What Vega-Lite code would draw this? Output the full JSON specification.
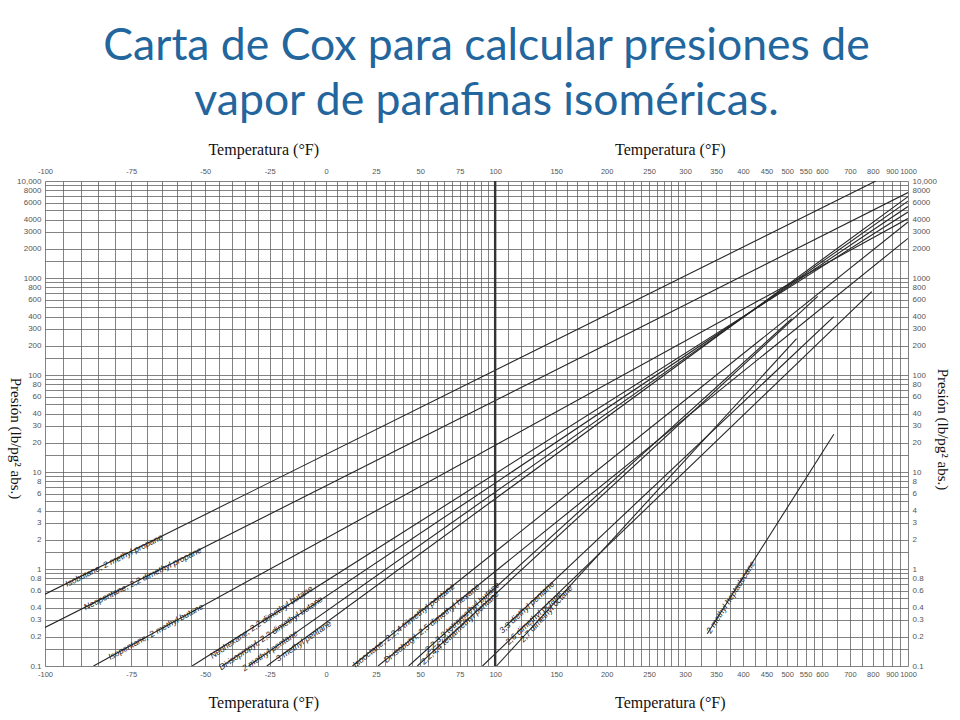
{
  "$schema": "https://vega.github.io/schema/vega-lite/v6.json",
  "width": 863,
  "height": 485,
  "autosize": {"type": "none"},
  "padding": {"left": 45, "top": 181, "right": 52, "bottom": 54},
  "background": "white",
  "title": {
    "text": ["Carta de Cox para calcular presiones de", "vapor de parafinas isoméricas."],
    "font": "Lato",
    "fontSize": 44.5,
    "fontWeight": "normal",
    "color": "#22669d",
    "anchor": "middle",
    "lineHeight": 55,
    "offset": 17,
    "dx": 10
  },
  "config": {
    "view": {"stroke": null},
    "axis": {
      "labelFont": "Liberation Sans",
      "labelFontSize": 8,
      "labelColor": "#555555",
      "domain": false,
      "ticks": false,
      "labelOverlap": false,
      "labelBound": false,
      "labelFlush": false,
      "gridColor": "#5a5a5a",
      "gridWidth": 0.75,
      "gridOpacity": 1,
      "titleFont": "Liberation Serif",
      "titleFontSize": 16,
      "titleFontWeight": "normal",
      "titleColor": "#111111"
    },
    "text": {"font": "Liberation Sans", "fontStyle": "italic", "fontSize": 8.5, "color": "#1a1a1a", "baseline": "middle"}
  },
  "datasets": {
    "lines": [
      {"c": "Isobutane", "t": -100, "p": 0.55}, {"c": "Isobutane", "t": 815, "p": 10000},
      {"c": "Neopentane", "t": -100, "p": 0.25}, {"c": "Neopentane", "t": 1000, "p": 7600},
      {"c": "Isopentane", "t": -86.4, "p": 0.1}, {"c": "Isopentane", "t": 1000, "p": 4100},
      {"c": "Neohexane", "t": -54.7, "p": 0.1}, {"c": "Neohexane", "t": 1000, "p": 4790},
      {"c": "Di-isopropyl", "t": -43.8, "p": 0.1}, {"c": "Di-isopropyl", "t": 1000, "p": 5450},
      {"c": "2 methyl pentane", "t": -33.6, "p": 0.1}, {"c": "2 methyl pentane", "t": 1000, "p": 6200},
      {"c": "3 methyl pentane", "t": -26.2, "p": 0.1}, {"c": "3 methyl pentane", "t": 1000, "p": 6900},
      {"c": "Isooctane", "t": 12.8, "p": 0.1}, {"c": "Isooctane", "t": 1000, "p": 3780},
      {"c": "Di-isobutyl", "t": 26.1, "p": 0.1}, {"c": "Di-isobutyl", "t": 1000, "p": 2560},
      {"c": "2,2,3,3 tetramethyl butane", "t": 43.2, "p": 0.1}, {"c": "2,2,3,3 tetramethyl butane", "t": 512, "p": 380},
      {"c": "2,2,4,4 tetramethyl pentane", "t": 48.3, "p": 0.1}, {"c": "2,2,4,4 tetramethyl pentane", "t": 586.6, "p": 646},
      {"c": "3,3 diethyl pentane", "t": 107, "p": 0.25}, {"c": "3,3 diethyl pentane", "t": 640, "p": 400},
      {"c": "2,6 dimethyl octane", "t": 90.8, "p": 0.1}, {"c": "2,6 dimethyl octane", "t": 795, "p": 722},
      {"c": "2,7 dimethyl octane", "t": 101, "p": 0.1}, {"c": "2,7 dimethyl octane", "t": 525, "p": 237},
      {"c": "2 methyl heptadecane", "t": 335, "p": 0.215}, {"c": "2 methyl heptadecane", "t": 640, "p": 24.5}
    ],
    "ref": [{"t": 100}],
    "labels": [
      {"g": 1, "name": "Isobutane, 2 methyl propane", "t": -80.3, "p": 1.23},
      {"g": 1, "name": "Neopentane, 2,2 dimethyl propane", "t": -71.4, "p": 0.8},
      {"g": 2, "name": "Isopentane, 2 methyl butane", "t": -67.1, "p": 0.227},
      {"g": 3, "name": "Neohexane, 2,2 dimethyl butane", "t": -28.5, "p": 0.284},
      {"g": 3, "name": "Di-isopropyl, 2,3 dimethyl butane", "t": -24.6, "p": 0.219},
      {"g": 3, "name": "2 methyl pentane", "t": -25, "p": 0.1445},
      {"g": 3, "name": "3 methyl pentane", "t": -10.4, "p": 0.182},
      {"g": 4, "name": "Isooctane, 2,2,4 trimethyl pentane", "t": 40.3, "p": 0.263},
      {"g": 4, "name": "Di-isobutyl, 2,5 dimethyl hexane", "t": 56.9, "p": 0.276},
      {"g": 5, "name": "2,2,3,3 tetramethyl butane", "t": 76.6, "p": 0.319},
      {"g": 5, "name": "2,2,4,4 tetramethyl pentane", "t": 75, "p": 0.25},
      {"g": 5, "name": "3,3 diethyl pentane", "t": 124.6, "p": 0.405},
      {"g": 5, "name": "2,6 dimethyl octane", "t": 130.3, "p": 0.313},
      {"g": 6, "name": "2,7 dimethyl octane", "t": 141, "p": 0.348},
      {"g": 7, "name": "2 methyl heptadecane", "t": 376, "p": 0.514}
    ]
  },
  "resolve": {"axis": {"x": "independent", "y": "independent"}},
  "layer": [
    {
      "data": {"name": "lines"},
      "transform": [{"calculate": "datum.t + 459.67", "as": "R"}],
      "mark": {"type": "line", "clip": true, "color": "#262626", "strokeWidth": 1.1},
      "encoding": {
        "x": {
          "field": "R", "type": "quantitative",
          "scale": {"type": "pow", "exponent": -1.3, "domain": [359.67, 1459.67], "nice": false, "zero": false},
          "axis": {
            "orient": "bottom",
            "values": [359.67,364.67,369.67,374.67,379.67,384.67,389.67,394.67,399.67,404.67,409.67,414.67,419.67,424.67,429.67,434.67,439.67,444.67,449.67,454.67,459.67,464.67,469.67,474.67,479.67,484.67,489.67,494.67,499.67,504.67,509.67,514.67,519.67,524.67,529.67,534.67,539.67,544.67,549.67,554.67,559.67,569.67,579.67,589.67,599.67,609.67,619.67,629.67,639.67,649.67,659.67,669.67,679.67,689.67,699.67,709.67,719.67,729.67,739.67,749.67,759.67,784.67,809.67,834.67,859.67,884.67,909.67,934.67,959.67,984.67,1009.67,1034.67,1059.67,1109.67,1159.67,1209.67,1259.67,1309.67,1359.67,1409.67,1459.67],
            "grid": true,
            "labelExpr": "indexof([-100,-75,-50,-25,0,25,50,75,100,150,200,250,300,350,400,450,500,550,600,700,800,900,1000], round(datum.value - 459.67)) >= 0 ? '' + round(datum.value - 459.67) : ''",
            "labelFontSize": 7.5,
            "labelPadding": 4,
            "title": "Temperatura (°F)\u00a0\u00a0\u00a0\u00a0\u00a0\u00a0\u00a0\u00a0\u00a0\u00a0\u00a0\u00a0\u00a0\u00a0\u00a0\u00a0\u00a0\u00a0\u00a0\u00a0\u00a0\u00a0\u00a0\u00a0\u00a0\u00a0\u00a0\u00a0\u00a0\u00a0\u00a0\u00a0\u00a0\u00a0\u00a0\u00a0\u00a0\u00a0\u00a0\u00a0\u00a0\u00a0\u00a0\u00a0\u00a0\u00a0\u00a0\u00a0\u00a0\u00a0\u00a0\u00a0\u00a0\u00a0\u00a0\u00a0\u00a0\u00a0\u00a0\u00a0\u00a0\u00a0\u00a0\u00a0\u00a0\u00a0\u00a0\u00a0\u00a0\u00a0\u00a0\u00a0\u00a0\u00a0Temperatura (°F)",
            "titleX": 421.5,
            "titleY": 36,
            "titleAlign": "center",
            "titleBaseline": "middle"
          }
        },
        "y": {
          "field": "p", "type": "quantitative",
          "scale": {"type": "log", "domain": [0.1, 10000], "nice": false},
          "axis": {
            "orient": "left",
            "values": [0.1,0.15,0.2,0.3,0.4,0.5,0.6,0.7,0.8,0.9,1,1.5,2,3,4,5,6,7,8,9,10,15,20,30,40,50,60,70,80,90,100,150,200,300,400,500,600,700,800,900,1000,1500,2000,3000,4000,5000,6000,7000,8000,9000,10000],
            "grid": true,
            "labelExpr": "datum.value == 10000 ? '10,000' : (indexof([0.1,0.2,0.3,0.4,0.6,0.8,1,2,3,4,6,8,10,20,30,40,60,80,100,200,300,400,600,800,1000,2000,3000,4000,6000,8000], datum.value) >= 0 ? '' + datum.value : '')",
            "labelPadding": 4,
            "title": "Presión (lb/pg² abs.)",
            "titleFontSize": 15,
            "titleAngle": 90,
            "titleX": -30,
            "titleY": 257,
            "titleAlign": "center",
            "titleBaseline": "middle"
          }
        },
        "detail": {"field": "c"}
      }
    },
    {
      "data": {"name": "ref"},
      "transform": [{"calculate": "datum.t + 459.67", "as": "R"}],
      "mark": {"type": "rule", "color": "#333333", "strokeWidth": 2.4},
      "encoding": {
        "x": {"field": "R", "type": "quantitative", "scale": {"type": "pow", "exponent": -1.3, "domain": [359.67, 1459.67], "nice": false, "zero": false}, "axis": null}
      }
    },
    {
      "data": {"name": "labels"},
      "transform": [{"filter": "datum.g == 1"}, {"calculate": "datum.t + 459.67", "as": "R"}],
      "mark": {"type": "text", "angle": 333.5},
      "encoding": {
        "x": {
          "field": "R", "type": "quantitative",
          "scale": {"type": "pow", "exponent": -1.3, "domain": [359.67, 1459.67], "nice": false, "zero": false},
          "axis": {
            "orient": "top",
            "values": [359.67,384.67,409.67,434.67,459.67,484.67,509.67,534.67,559.67,609.67,659.67,709.67,759.67,809.67,859.67,909.67,959.67,1009.67,1059.67,1159.67,1259.67,1359.67,1459.67],
            "grid": false,
            "labelExpr": "'' + round(datum.value - 459.67)",
            "labelFontSize": 7.5,
            "labelPadding": 6,
            "title": "Temperatura (°F)\u00a0\u00a0\u00a0\u00a0\u00a0\u00a0\u00a0\u00a0\u00a0\u00a0\u00a0\u00a0\u00a0\u00a0\u00a0\u00a0\u00a0\u00a0\u00a0\u00a0\u00a0\u00a0\u00a0\u00a0\u00a0\u00a0\u00a0\u00a0\u00a0\u00a0\u00a0\u00a0\u00a0\u00a0\u00a0\u00a0\u00a0\u00a0\u00a0\u00a0\u00a0\u00a0\u00a0\u00a0\u00a0\u00a0\u00a0\u00a0\u00a0\u00a0\u00a0\u00a0\u00a0\u00a0\u00a0\u00a0\u00a0\u00a0\u00a0\u00a0\u00a0\u00a0\u00a0\u00a0\u00a0\u00a0\u00a0\u00a0\u00a0\u00a0\u00a0\u00a0\u00a0\u00a0Temperatura (°F)",
            "titleX": 421.5,
            "titleY": -32,
            "titleAlign": "center",
            "titleBaseline": "middle"
          }
        },
        "y": {
          "field": "p", "type": "quantitative",
          "scale": {"type": "log", "domain": [0.1, 10000], "nice": false},
          "axis": {
            "orient": "right",
            "values": [0.1,0.2,0.3,0.4,0.6,0.8,1,2,3,4,6,8,10,20,30,40,60,80,100,200,300,400,600,800,1000,2000,3000,4000,6000,8000,10000],
            "grid": false,
            "labelExpr": "datum.value == 10000 ? '10,000' : '' + datum.value",
            "labelPadding": 4,
            "title": "Presión (lb/pg² abs.)",
            "titleFontSize": 15,
            "titleAngle": 90,
            "titleX": 34,
            "titleY": 248,
            "titleAlign": "center",
            "titleBaseline": "middle"
          }
        },
        "text": {"field": "name"}
      }
    },
    {
      "data": {"name": "labels"},
      "transform": [{"filter": "datum.g == 2"}, {"calculate": "datum.t + 459.67", "as": "R"}],
      "mark": {"type": "text", "angle": 331},
      "encoding": {
        "x": {"field": "R", "type": "quantitative", "scale": {"type": "pow", "exponent": -1.3, "domain": [359.67, 1459.67], "nice": false, "zero": false}, "axis": null},
        "y": {"field": "p", "type": "quantitative", "scale": {"type": "log", "domain": [0.1, 10000], "nice": false}, "axis": null},
        "text": {"field": "name"}
      }
    },
    {
      "data": {"name": "labels"},
      "transform": [{"filter": "datum.g == 3"}, {"calculate": "datum.t + 459.67", "as": "R"}],
      "mark": {"type": "text", "angle": 325.6},
      "encoding": {
        "x": {"field": "R", "type": "quantitative", "scale": {"type": "pow", "exponent": -1.3, "domain": [359.67, 1459.67], "nice": false, "zero": false}, "axis": null},
        "y": {"field": "p", "type": "quantitative", "scale": {"type": "log", "domain": [0.1, 10000], "nice": false}, "axis": null},
        "text": {"field": "name"}
      }
    },
    {
      "data": {"name": "labels"},
      "transform": [{"filter": "datum.g == 4"}, {"calculate": "datum.t + 459.67", "as": "R"}],
      "mark": {"type": "text", "angle": 321.3},
      "encoding": {
        "x": {"field": "R", "type": "quantitative", "scale": {"type": "pow", "exponent": -1.3, "domain": [359.67, 1459.67], "nice": false, "zero": false}, "axis": null},
        "y": {"field": "p", "type": "quantitative", "scale": {"type": "log", "domain": [0.1, 10000], "nice": false}, "axis": null},
        "text": {"field": "name"}
      }
    },
    {
      "data": {"name": "labels"},
      "transform": [{"filter": "datum.g == 5"}, {"calculate": "datum.t + 459.67", "as": "R"}],
      "mark": {"type": "text", "angle": 317},
      "encoding": {
        "x": {"field": "R", "type": "quantitative", "scale": {"type": "pow", "exponent": -1.3, "domain": [359.67, 1459.67], "nice": false, "zero": false}, "axis": null},
        "y": {"field": "p", "type": "quantitative", "scale": {"type": "log", "domain": [0.1, 10000], "nice": false}, "axis": null},
        "text": {"field": "name"}
      }
    },
    {
      "data": {"name": "labels"},
      "transform": [{"filter": "datum.g == 6"}, {"calculate": "datum.t + 459.67", "as": "R"}],
      "mark": {"type": "text", "angle": 312.4},
      "encoding": {
        "x": {"field": "R", "type": "quantitative", "scale": {"type": "pow", "exponent": -1.3, "domain": [359.67, 1459.67], "nice": false, "zero": false}, "axis": null},
        "y": {"field": "p", "type": "quantitative", "scale": {"type": "log", "domain": [0.1, 10000], "nice": false}, "axis": null},
        "text": {"field": "name"}
      }
    },
    {
      "data": {"name": "labels"},
      "transform": [{"filter": "datum.g == 7"}, {"calculate": "datum.t + 459.67", "as": "R"}],
      "mark": {"type": "text", "angle": 302.4},
      "encoding": {
        "x": {"field": "R", "type": "quantitative", "scale": {"type": "pow", "exponent": -1.3, "domain": [359.67, 1459.67], "nice": false, "zero": false}, "axis": null},
        "y": {"field": "p", "type": "quantitative", "scale": {"type": "log", "domain": [0.1, 10000], "nice": false}, "axis": null},
        "text": {"field": "name"}
      }
    }
  ]
}
